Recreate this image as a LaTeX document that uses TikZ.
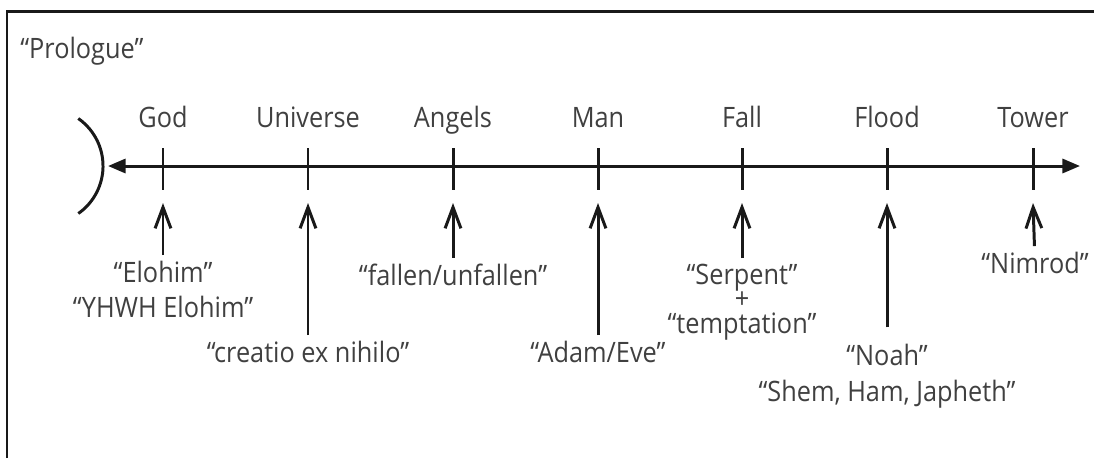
\documentclass[tikz,border=0pt]{standalone}
\usepackage{fontspec}
\setmainfont{Open Sans}[FakeStretch=0.9]
\usetikzlibrary{arrows.meta}

\tikzset{
  lbl/.style={font=\fontsize{16}{20}\selectfont, text=black!75, inner sep=0pt, anchor=base},
  thick line/.style={line width=1.7pt, black!90},
  pointer/.style={thick line, shorten <=3pt, -{Straight Barb[length=12pt,width=9pt]}},
  timeline/.style={thick line, {Triangle[length=10pt,width=8pt]}-{Triangle[length=10pt,width=8pt]}}
}

\begin{document}
\begin{tikzpicture}[x=0.02cm,y=-0.02cm]
\useasboundingbox (0,0) rectangle (1094,458);
% frame, top and left only
\draw[thick line] (7,458) -- (7,11) -- (1094,11);
\node[lbl, anchor=base west] (prologue) at (20,58) {“Prologue”};

% the time line
\coordinate (left) at (108,166);
\coordinate (right) at (1080,166);
\draw[timeline] (left) -- (right);
\draw[thick line] (78.3,118.5) arc[start angle=55, end angle=-55, radius=1.16cm];

% ticks
\draw[thick line] (163,148) -- (163,190);
\draw[thick line] (308,148) -- (308,190);
\draw[thick line] (453,148) -- (453,190);
\draw[thick line] (598,148) -- (598,190);
\draw[thick line] (742,148) -- (742,190);
\draw[thick line] (887,148) -- (887,190);
\draw[thick line] (1033,148) -- (1033,190);

% labels above
\node[lbl] (god) at (163,127) {God};
\node[lbl] (universe) at (308,127) {Universe};
\node[lbl] (angels) at (453,127) {Angels};
\node[lbl] (man) at (598,127) {Man};
\node[lbl] (fall) at (742,127) {Fall};
\node[lbl] (flood) at (887,127) {Flood};
\node[lbl] (tower) at (1033,127) {Tower};

% arrow tips under the ticks
\coordinate (godtip) at (163,203);
\coordinate (universetip) at (308,203);
\coordinate (angelstip) at (453,203);
\coordinate (mantip) at (598,203);
\coordinate (falltip) at (742,203);
\coordinate (floodtip) at (887,203);
\coordinate (towertip) at (1033,203);

% labels below
\node[lbl] (elohim) at (163,282) {“Elohim”};
\node[lbl] (yhwh) at (163,317) {“YHWH Elohim”};
\node[lbl] (creatio) at (308,362) {“creatio ex nihilo”};
\node[lbl] (fallen) at (453,285) {“fallen/unfallen”};
\node[lbl] (adam) at (598,362) {“Adam/Eve”};
\node[lbl, anchor=center, align=center, font=\fontsize{16}{14}\selectfont]
  (serpent) at (742,302) {“Serpent”\\+\\“temptation”};
\node[lbl] (noah) at (887,365) {“Noah”};
\node[lbl] (shem) at (887,401) {“Shem, Ham, Japheth”};
\node[lbl] (nimrod) at (1035,273) {“Nimrod”};

\draw[pointer] (elohim) -- (godtip);
\draw[pointer] (creatio) -- (universetip);
\draw[pointer] (fallen) -- (angelstip);
\draw[pointer] (adam) -- (mantip);
\draw[pointer] (serpent) -- (falltip);
\draw[pointer, shorten <=9pt] (noah) -- (floodtip);
\draw[pointer] (nimrod) -- (towertip);
\end{tikzpicture}
\end{document}
